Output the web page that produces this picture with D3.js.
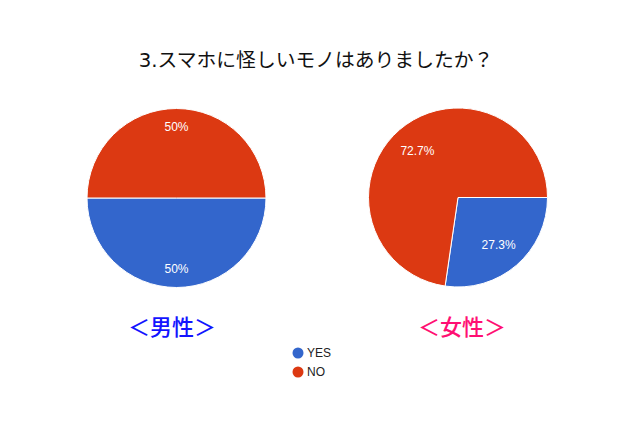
<!DOCTYPE html>
<html>
<head>
<meta charset="utf-8">
<script src="https://cdn.jsdelivr.net/npm/d3@7"></script>
<style>
  body { margin: 0; background: #fff; }
  svg { display: block; font-family: Arial, "Liberation Sans", "Noto Sans CJK JP", sans-serif; }
</style>
</head>
<body>
<div class="pie-chart"></div>
<script>
'use strict'

// Data.
const title = '3.スマホに怪しいモノはありましたか？';
const categories = ['YES', 'NO'];
const groups = ['＜男性＞', '＜女性＞'];
const maleValues = [50, 50];
const femaleValues = [27.3, 72.7];

// Dimensions.
let width = 640,
    height = 427,
    radius = 89.5;

let colors = d3.scaleOrdinal()
    .domain(categories)
    .range(['#3366cc', '#dc3912']);

let layout = [
    {cx: 176.5, cy: 198, labelR: 71, groupX: 172, color: '#1414ff', values: maleValues},
    {cx: 458, cy: 197.5, labelR: 62, groupX: 462, color: '#ff0f73', values: femaleValues}
];

// Build SVG.
let svg = d3.select('.pie-chart')
    .append('svg')
        .attr('width', width)
        .attr('height', height);

svg.append('text')
    .attr('x', 316)
    .attr('y', 67)
    .attr('text-anchor', 'middle')
    .style('font-family', '"DejaVu Sans", "Noto Sans CJK JP", sans-serif')
    .style('font-size', '19.8px')
    .attr('fill', '#111')
    .text(title);

let pie = d3.pie()
    .sort(null)
    .startAngle(Math.PI / 2)
    .endAngle(Math.PI / 2 + 2 * Math.PI);

let arc = d3.arc()
    .innerRadius(0)
    .outerRadius(radius);

layout.forEach((p, i) => {
    let data = categories.map((c, j) => ({cat: c, value: p.values[j]}));
    let arcs = pie.value(d => d.value)(data);

    let g = svg.append('g')
        .attr('transform', `translate(${p.cx}, ${p.cy})`);

    g.selectAll('path')
        .data(arcs)
        .join('path')
            .attr('d', arc)
            .attr('fill', d => colors(d.data.cat))
            .attr('stroke', '#fff')
            .attr('stroke-width', 1);

    let labelArc = d3.arc().innerRadius(p.labelR).outerRadius(p.labelR);

    g.selectAll('text.pct')
        .data(arcs)
        .join('text')
            .attr('class', 'pct')
            .attr('transform', d => `translate(${labelArc.centroid(d)})`)
            .attr('text-anchor', 'middle')
            .attr('dy', '0.35em')
            .attr('fill', '#fff')
            .style('font-size', '12px')
            .text(d => `${d.data.value}%`);

    svg.append('text')
        .attr('x', p.groupX)
        .attr('y', 335)
        .attr('text-anchor', 'middle')
        .style('font-family', '"Noto Sans CJK JP", sans-serif')
        .style('font-size', '22px')
        .style('font-weight', 500)
        .attr('fill', p.color)
        .text(groups[i]);
});

// Legend.
let legend = svg.append('g')
    .attr('transform', 'translate(298, 353)');

let items = legend.selectAll('g')
    .data(categories)
    .join('g')
        .attr('transform', (d, i) => `translate(0, ${i * 19})`);

items.append('circle')
    .attr('r', 5.5)
    .attr('fill', d => colors(d));

items.append('text')
    .attr('x', 9)
    .attr('dy', '0.35em')
    .style('font-size', '12px')
    .attr('fill', '#222')
    .text(d => d);
</script>
</body>
</html>
